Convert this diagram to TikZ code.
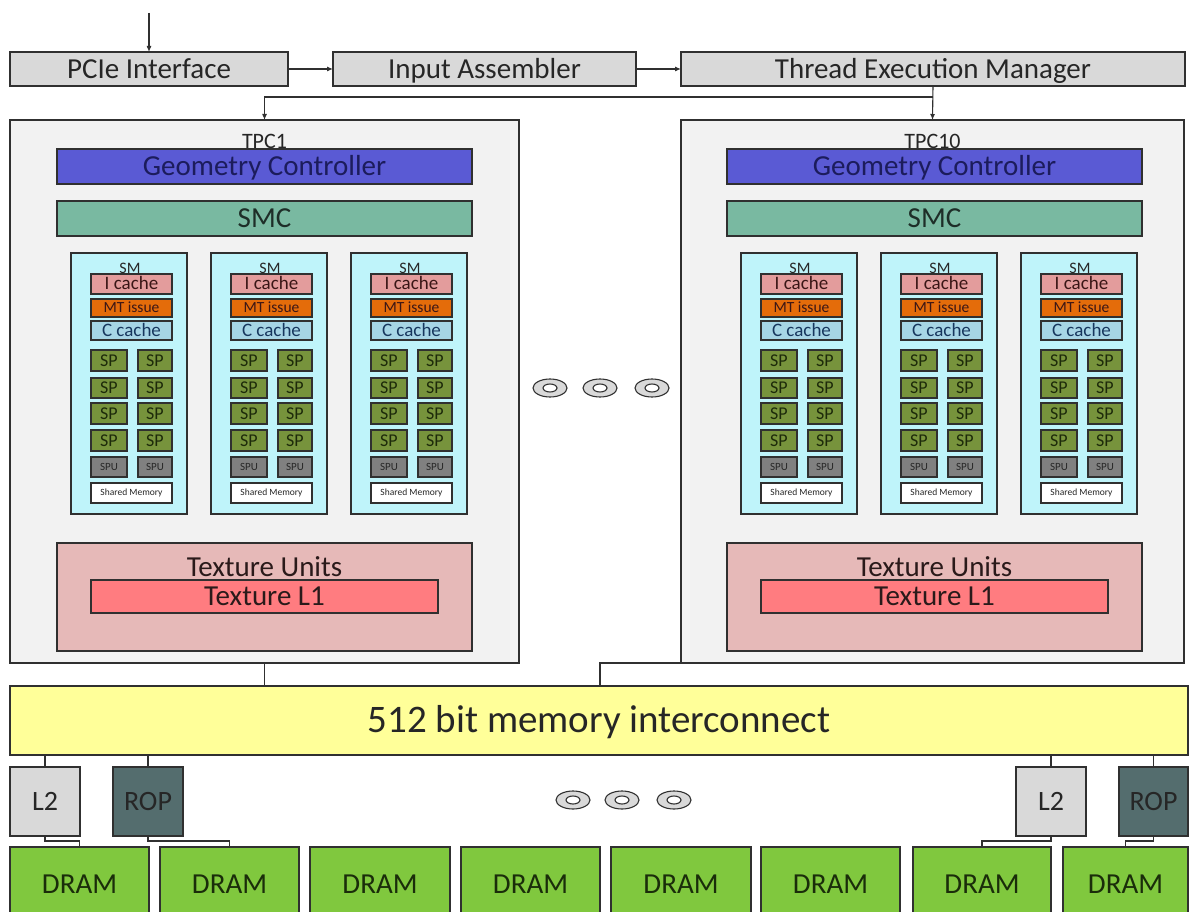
\documentclass[tikz,border=0pt]{standalone}
\usepackage{fontspec}
\setmainfont{Carlito}
\usetikzlibrary{arrows.meta}

\definecolor{edge}{HTML}{303030}
\definecolor{ink}{HTML}{262626}
\definecolor{topfill}{HTML}{D9D9D9}
\definecolor{tpcfill}{HTML}{F2F2F2}
\definecolor{gcfill}{HTML}{5A5AD4}
\definecolor{gcink}{HTML}{1C1C5C}
\definecolor{smcfill}{HTML}{79B9A1}
\definecolor{smcink}{HTML}{1E2E28}
\definecolor{smfill}{HTML}{BFF4FA}
\definecolor{icache}{HTML}{E39C9C}
\definecolor{icink}{HTML}{3A1616}
\definecolor{mtfill}{HTML}{E46C0A}
\definecolor{ccache}{HTML}{A6D5E5}
\definecolor{ccink}{HTML}{17375E}
\definecolor{spfill}{HTML}{77933C}
\definecolor{spink}{HTML}{1D2A0A}
\definecolor{spufill}{HTML}{808080}
\definecolor{tufill}{HTML}{E6B9B8}
\definecolor{tuink}{HTML}{2A1A1A}
\definecolor{lonefill}{HTML}{FF7C80}
\definecolor{icfill}{HTML}{FFFF99}
\definecolor{ltwofill}{HTML}{D9D9D9}
\definecolor{ropfill}{HTML}{546D6E}
\definecolor{dramfill}{HTML}{80C83E}
\definecolor{dramink}{HTML}{1A2D0A}
\definecolor{ringfill}{HTML}{D9D9D9}

\tikzset{
  blk/.style={draw=edge, line width=1.1pt, inner sep=0pt, outer sep=0pt, align=center},
  % font size in pt; the text box is as tall as a capital, so capitals sit centred
  fs/.code={%
    \pgfmathsetmacro\capht{0.63*#1}%
    \edef\fsset{\noexpand\tikzset{font=\noexpand\fontsize{#1}{#1}\noexpand\selectfont,
      text height=\capht pt, text depth=0pt}}%
    \fsset},
  wire/.style={draw=edge, line width=1.1pt},
  arr/.style={draw=edge, line width=1.1pt, -{Latex[length=6pt,width=5pt]}},
  ring/.style={draw=edge, line width=1.1pt},
}

% box from corner (x1,y1) to (x2,y2): name, x1, y1, x2, y2, options, text
\newcommand\putbox[7]{%
  \node[blk,#6,minimum width={(#4)-(#2)},minimum height={(#5)-(#3)}]
    (#1) at ({((#2)+(#4))/2},{((#3)+(#5))/2}) {#7};}

% one streaming multiprocessor: name, left x
\newcommand\smunit[2]{%
  \putbox{#1}{#2}{253}{#2+116}{514}{fill=smfill}{}
  \node[font=\fontsize{16}{16}\selectfont, anchor=base, text=ink, inner sep=0pt]
    (#1-lbl) at ({#2+59},273) {SM};
  \putbox{#1-ic}{#2+20}{274}{#2+101}{294}{fill=icache, fs=19, text=icink}{I cache}
  \putbox{#1-mt}{#2+20}{299}{#2+101}{317}{fill=mtfill, fs=15.5, text=icink}{MT issue}
  \putbox{#1-cc}{#2+20}{321}{#2+101}{340}{fill=ccache, fs=19, text=ccink}{C cache}
  \foreach \ya/\yb [count=\i] in {350/371,378/398,403/424,430/451}{
    \putbox{#1-spl\i}{#2+20}{\ya}{#2+56}{\yb}{fill=spfill, fs=18, text=spink}{SP}
    \putbox{#1-spr\i}{#2+67}{\ya}{#2+101}{\yb}{fill=spfill, fs=18, text=spink}{SP}
  }
  \putbox{#1-sfl}{#2+20}{457}{#2+56}{477}{fill=spufill, fs=11, text=ink}{SPU}
  \putbox{#1-sfr}{#2+67}{457}{#2+101}{477}{fill=spufill, fs=11, text=ink}{SPU}
  \putbox{#1-shm}{#2+20}{483}{#2+101}{503}{fill=white, fs=9.5, text=ink}{Shared Memory}
}

% one texture/processor cluster: name, left, right, inner offset, label
\newcommand\tpcunit[5]{%
  \putbox{#1}{#2}{120}{#3}{663}{fill=tpcfill}{}
  \node[font=\fontsize{22}{22}\selectfont, anchor=base, text=ink, inner sep=0pt]
    (#1-lbl) at ({((#2)+(#3))/2},149) {#5};
  \putbox{#1-gc}{57+#4}{149}{472+#4}{184}{fill=gcfill, fs=29, text=gcink}{Geometry Controller}
  \putbox{#1-smc}{57+#4}{201}{472+#4}{236}{fill=smcfill, fs=29, text=smcink}{SMC}
  \smunit{#1-sma}{71+#4}
  \smunit{#1-smb}{211+#4}
  \smunit{#1-smc}{351+#4}
  \putbox{#1-tu}{57+#4}{543}{472+#4}{651}{fill=tufill}{}
  \node[fs=29, text=tuink, inner sep=0pt] (#1-tut) at ({264.5+#4},567) {Texture Units};
  \putbox{#1-lone}{91+#4}{580}{438+#4}{613}{fill=lonefill, fs=29, text=tuink}{Texture L1}
}

% "more of the same" ring marker
\newcommand\ringmark[2]{%
  \filldraw[ring, fill=ringfill] (#1,#2) ellipse [x radius=17, y radius=9];
  \filldraw[ring, fill=white] (#1,#2) ellipse [x radius=7, y radius=4];
}

\begin{document}
\begin{tikzpicture}[x=1pt, y=-1pt]
  \useasboundingbox (0,0) rectangle (1189,912);
  \fill[white] (0,0) rectangle (1189,912);
  \clip (0,0) rectangle (1189,912);

  % host side
  \coordinate (host) at (149,13);
  \putbox{pcie}{10}{52}{288}{86}{fill=topfill, fs=29, text=ink}{PCIe Interface}
  \putbox{ia}{333}{52}{636}{86}{fill=topfill, fs=29, text=ink}{Input Assembler}
  \putbox{tem}{681}{52}{1185}{86}{fill=topfill, fs=29, text=ink}{Thread Execution Manager}

  % clusters
  \tpcunit{tpca}{10}{519}{0}{TPC1}
  \tpcunit{tpcb}{681}{1184}{670}{TPC10}

  \ringmark{550}{388}
  \ringmark{600}{388}
  \ringmark{652}{388}

  % memory side
  \putbox{ic}{10}{686}{1188}{755}{fill=icfill, fs=39, text=ink}{512 bit memory interconnect}
  \putbox{ltwoa}{10}{767}{80}{836}{fill=ltwofill, fs=28, text=ink}{L2}
  \putbox{ropa}{113}{767}{183}{836}{fill=ropfill, fs=28, text=ink}{ROP}
  \putbox{ltwob}{1016}{767}{1086}{836}{fill=ltwofill, fs=28, text=ink}{L2}
  \putbox{ropb}{1119}{767}{1188}{836}{fill=ropfill, fs=28, text=ink}{ROP}

  \foreach \xa/\xb [count=\i] in {10/149,160/299,310/450,461/600,611/751,761/900,913/1051,1063/1188}{
    \putbox{dram\i}{\xa}{847}{\xb}{922}{fill=dramfill, fs=29, text=dramink}{DRAM}
  }

  \ringmark{573}{800}
  \ringmark{622}{800}
  \ringmark{674}{800}

  % connectors
  \draw[arr] (host) -- (host |- pcie.north);
  \draw[arr] (pcie.east) -- (ia.west);
  \draw[arr] (ia.east) -- (tem.west);
  \draw[arr] (tem.south) -- (tpcb.north);
  \draw[arr] (tem.south |- 0,97) -| (tpca.north);

  \coordinate (join) at (600,663);
  \draw[wire] (tpca.south) -- (tpca.south |- ic.north);
  \draw[wire] (tpcb.south west) -- (join) -- (join |- ic.north);

  \draw[wire] (ic.south -| ltwoa.north) -- (ltwoa.north);
  \draw[wire] (ic.south -| ropa.north) -- (ropa.north);
  \draw[wire] (ic.south -| ltwob.north) -- (ltwob.north);
  \draw[wire] (ic.south -| ropb.north) -- (ropb.north);

  \draw[wire] (ltwoa.south) -- ++(0,5) -| (dram1.north);
  \draw[wire] (ropa.south) -- ++(0,5) -| (dram2.north);
  \draw[wire] (ltwob.south) -- ++(0,5) -| (dram7.north);
  \draw[wire] (ropb.south) -- ++(0,5) -| (dram8.north);
\end{tikzpicture}
\end{document}
